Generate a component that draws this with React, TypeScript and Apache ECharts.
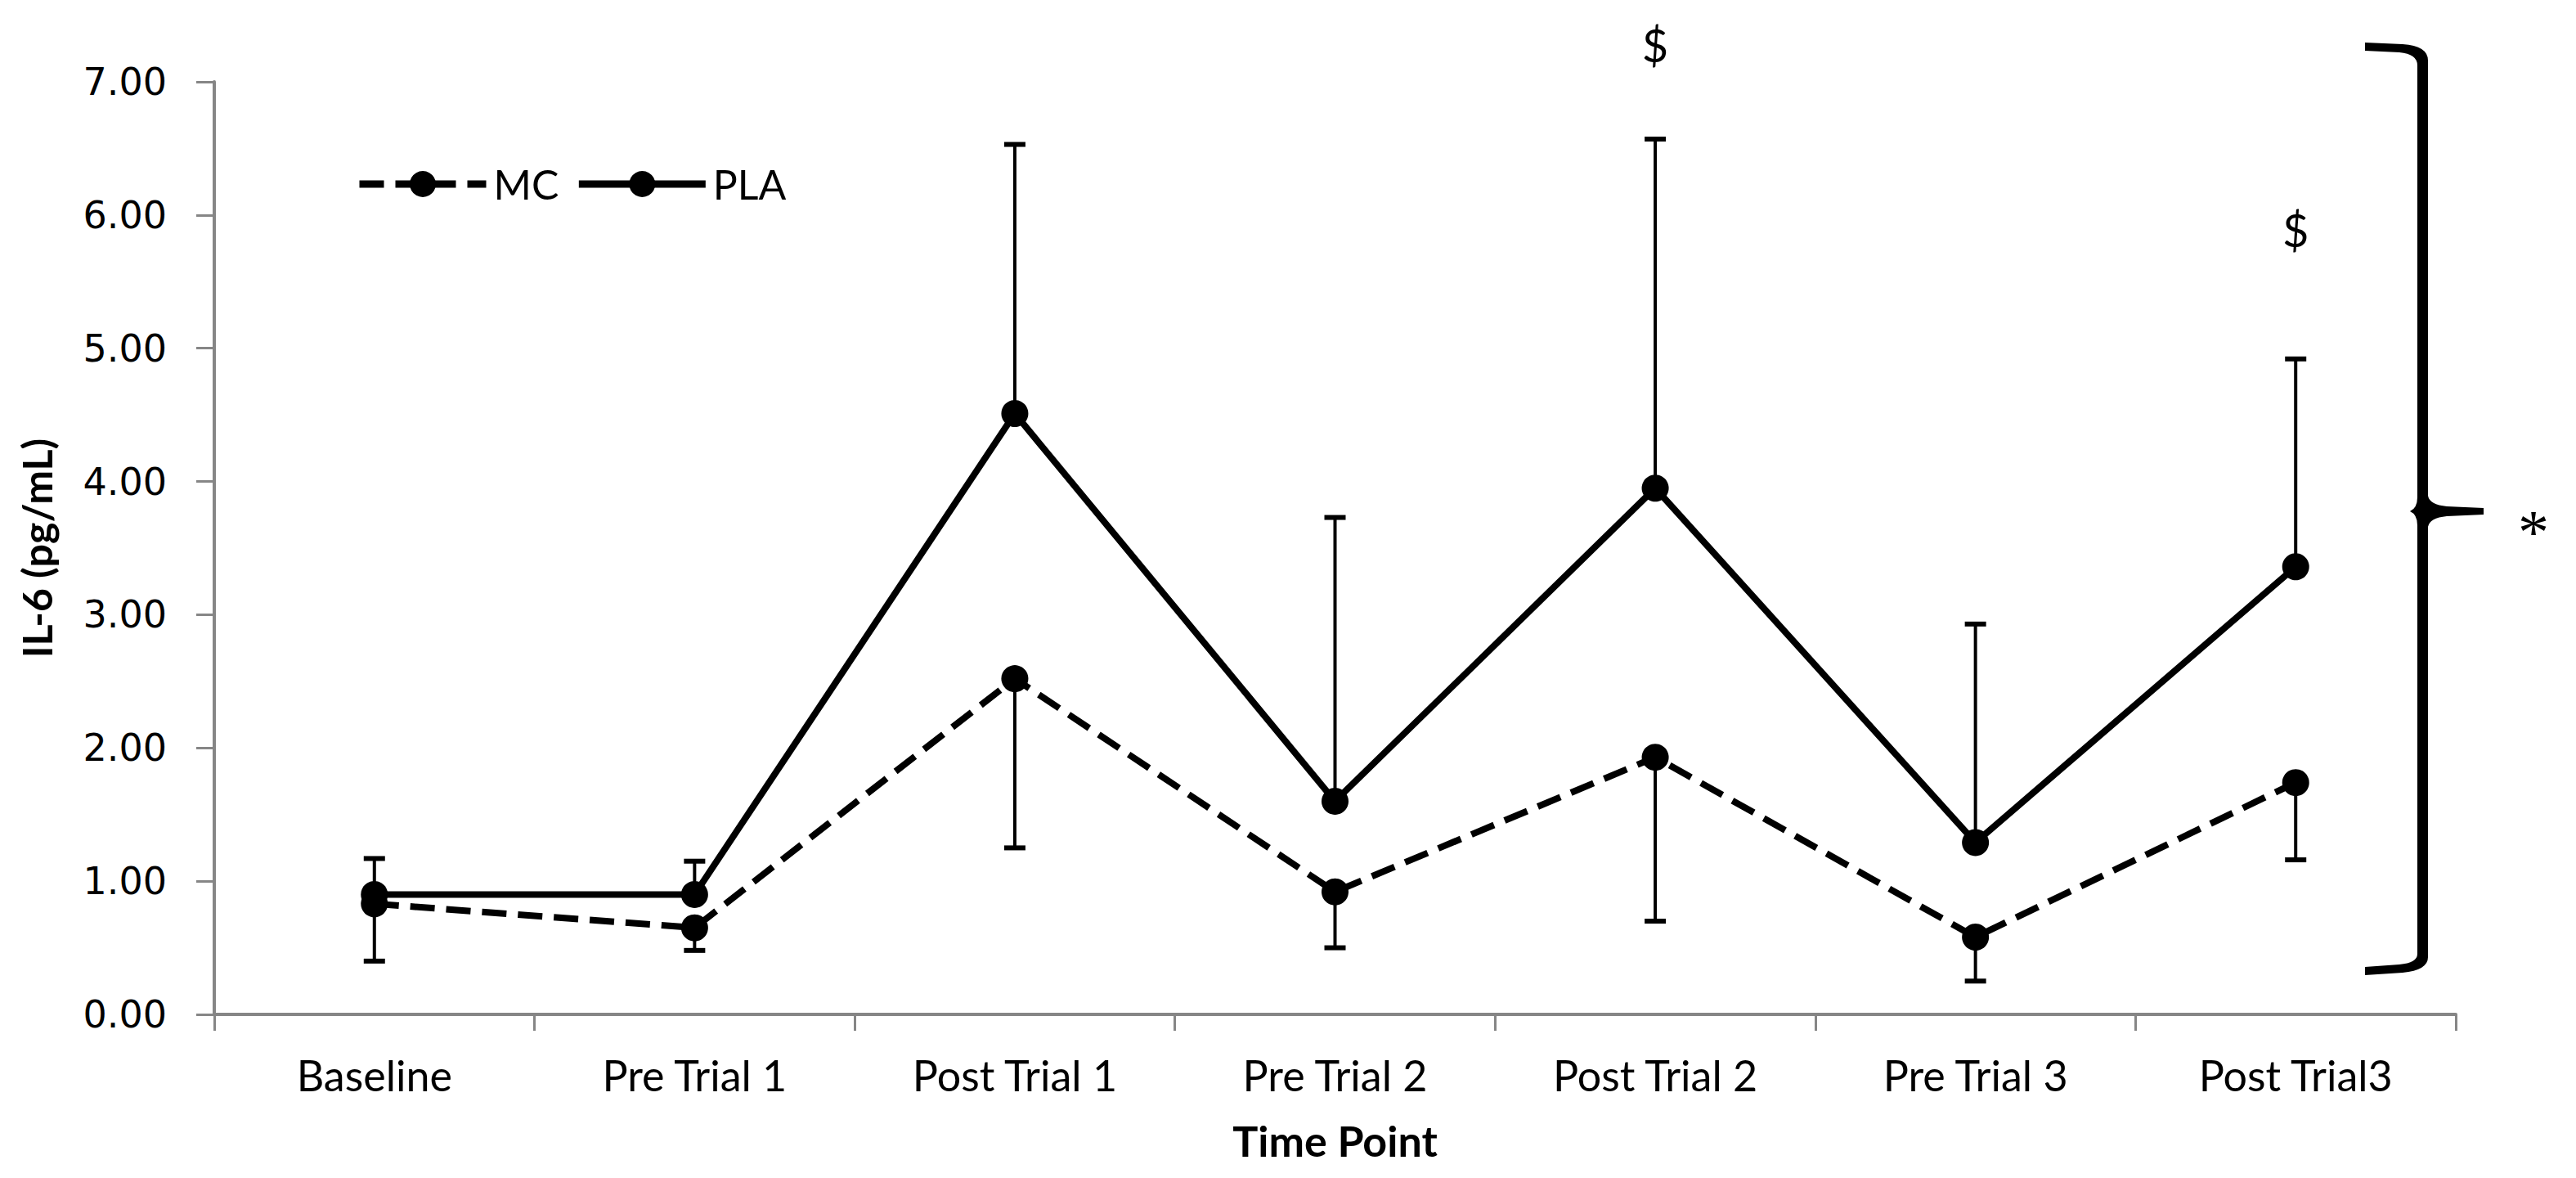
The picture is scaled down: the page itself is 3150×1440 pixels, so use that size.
import React, { useEffect, useRef } from "react";
import * as echarts from "echarts";

const categories = [
  "Baseline",
  "Pre Trial 1",
  "Post Trial 1",
  "Pre Trial 2",
  "Post Trial 2",
  "Pre Trial 3",
  "Post Trial3",
];
const mcMean = [0.83, 0.65, 2.52, 0.92, 1.93, 0.58, 1.74];
const mcSD = [0.43, 0.17, 1.27, 0.42, 1.23, 0.33, 0.58];
const plaMean = [0.9, 0.9, 4.51, 1.6, 3.95, 1.29, 3.36];
const plaSD = [0.27, 0.25, 2.02, 2.13, 2.62, 1.64, 1.56];
const yMin = 0;
const yMax = 7;
const yStep = 1;
const annotIndex = [4, 6];
const annotValue = [7.28, 5.89];
const annotText = ["$", "$"];

const BRACE_D =
  "M 2892 52 L 2938 54 Q 2969 56 2969 74 L 2969 606 Q 2971 617 2992 619 L 3037 621 L 3037 629 L 2992 631 Q 2971 633 2969 644 L 2969 1170 Q 2969 1186 2938 1189 L 2892 1192 L 2892 1182 L 2934 1179 Q 2956 1177 2956 1166 L 2956 642 Q 2956 629 2947 625 Q 2956 621 2956 608 L 2956 80 Q 2956 66 2934 64 L 2892 62 Z";

let registered = false;

export default function App() {
  const ref = useRef<HTMLDivElement>(null);

  useEffect(() => {
    if (!ref.current) return;
    if (!registered) {
      echarts.graphic.registerShape("brace", echarts.graphic.extendPath(BRACE_D, {}));
      registered = true;
    }
    const chart = echarts.init(ref.current, null, { renderer: "svg" });

    const errRender = (params: any, api: any) => {
      const x = api.value(0);
      const from = api.value(1);
      const to = api.value(2);
      const p1 = api.coord([x, from]);
      const p2 = api.coord([x, to]);
      const cap = 13;
      return {
        type: "group",
        children: [
          {
            type: "line",
            shape: { x1: p1[0], y1: p1[1], x2: p2[0], y2: p2[1] },
            style: { stroke: "#000", lineWidth: 4 },
          },
          {
            type: "line",
            shape: { x1: p2[0] - cap, y1: p2[1], x2: p2[0] + cap, y2: p2[1] },
            style: { stroke: "#000", lineWidth: 6 },
          },
        ],
      };
    };

    const option: any = {
      animation: false,
      backgroundColor: "#fff",
      grid: { left: 262, right: 147, top: 100, bottom: 200, containLabel: false },
      legend: {
        data: ["MC", "PLA"],
        left: 430,
        top: 195,
        itemWidth: 155,
        itemHeight: 40,
        itemGap: 20,
        lineStyle: { width: 9 },
        textStyle: {
          fontFamily: "Lato",
          fontSize: 50,
          color: "#000",
          padding: [0, 0, 0, 4],
        },
      },
      xAxis: {
        type: "category",
        data: categories,
        boundaryGap: true,
        name: "Time Point",
        nameLocation: "middle",
        nameGap: 128,
        nameTextStyle: { fontFamily: "Lato", fontWeight: "bold", fontSize: 52, color: "#000" },
        axisLine: { lineStyle: { color: "#868686", width: 4 } },
        axisTick: { show: true, length: 20, alignWithLabel: false, lineStyle: { color: "#868686", width: 3 } },
        axisLabel: { fontFamily: "Lato", fontSize: 52, color: "#000", margin: 48, interval: 0 },
        splitLine: { show: false },
      },
      yAxis: {
        type: "value",
        min: yMin,
        max: yMax,
        interval: yStep,
        name: "IL-6 (pg/mL)",
        nameLocation: "middle",
        nameGap: 192,
        nameTextStyle: { fontFamily: "Lato", fontWeight: "bold", fontSize: 50, color: "#000" },
        axisLine: { show: true, lineStyle: { color: "#868686", width: 4 } },
        axisTick: { show: true, length: 22, lineStyle: { color: "#868686", width: 3 } },
        axisLabel: {
          fontFamily: "DejaVu Sans",
          fontSize: 46,
          color: "#000",
          margin: 58,
          formatter: (v: number) => v.toFixed(2),
        },
        splitLine: { show: false },
      },
      series: [
        {
          name: "MC",
          type: "line",
          data: mcMean,
          symbol: "circle",
          symbolSize: 33,
          itemStyle: { color: "#000" },
          lineStyle: { color: "#000", width: 8, type: [30, 14] },
          z: 3,
        },
        {
          name: "PLA",
          type: "line",
          data: plaMean,
          symbol: "circle",
          symbolSize: 33,
          itemStyle: { color: "#000" },
          lineStyle: { color: "#000", width: 8, type: "solid" },
          z: 3,
        },
        {
          name: "MC error",
          type: "custom",
          renderItem: errRender,
          data: mcMean.map((m, i) => [i, m, m - mcSD[i]]),
          z: 2,
          clip: false,
        },
        {
          name: "PLA error",
          type: "custom",
          renderItem: errRender,
          data: plaMean.map((m, i) => [i, m, m + plaSD[i]]),
          z: 2,
          clip: false,
        },
        {
          name: "annotations",
          type: "custom",
          clip: false,
          data: annotIndex.map((x, i) => [x, annotValue[i]]),
          renderItem: (params: any, api: any) => {
            const p = api.coord([api.value(0), api.value(1)]);
            return {
              type: "text",
              x: p[0],
              y: p[1],
              style: {
                text: annotText[params.dataIndex],
                fontFamily: "Lato",
                fontSize: 56,
                fill: "#000",
                align: "center",
                verticalAlign: "middle",
              },
            };
          },
        },
      ],
      graphic: [
        { type: "brace", x: 0, y: 0, style: { fill: "#000" } },
        {
          type: "text",
          x: 3098,
          y: 650,
          style: {
            text: "*",
            fontFamily: "Liberation Serif",
            fontSize: 76,
            fill: "#000",
            align: "center",
            verticalAlign: "middle",
          },
        },
      ],
    };

    chart.setOption(option);
    return () => chart.dispose();
  }, []);

  return (
    <div
      ref={ref}
      style={{ position: "fixed", left: 0, top: 0, width: 3150, height: 1440, background: "#fff" }}
    />
  );
}
